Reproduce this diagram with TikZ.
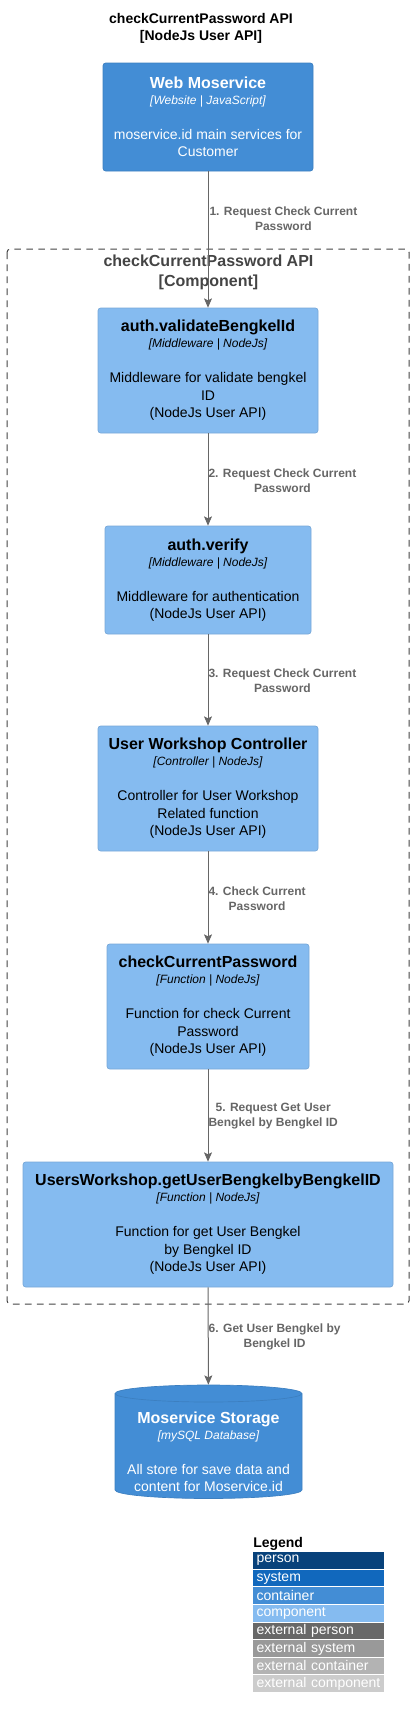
\documentclass[tikz,border=0pt]{standalone}
\usepackage{fontspec}
\setmainfont{Liberation Sans}
\usetikzlibrary{arrows.meta}

\definecolor{personcol}{HTML}{08427B}
\definecolor{systemcol}{HTML}{1168BD}
\definecolor{containercol}{HTML}{438DD5}
\definecolor{containerline}{HTML}{3C7FC0}
\definecolor{componentcol}{HTML}{85BBF0}
\definecolor{componentline}{HTML}{78A8D8}
\definecolor{extpersoncol}{HTML}{686868}
\definecolor{extsystemcol}{HTML}{999999}
\definecolor{extcontainercol}{HTML}{B3B3B3}
\definecolor{extcomponentcol}{HTML}{CCCCCC}
\definecolor{relcol}{HTML}{666666}
\definecolor{boundarycol}{HTML}{444444}

% name, [technology], description
\newcommand{\elemtext}[3]{{\fontsize{12}{13.125}\selectfont\bfseries #1}\\[-1.1pt]{\fontsize{9}{13.125}\selectfont\itshape [#2]}\\[13.1pt]#3}

\begin{document}
\begin{tikzpicture}[x=0.75pt, y=-0.75pt,
		box/.style={rectangle, rounded corners=2pt, line width=0.5pt, align=center, inner sep=0pt, font=\fontsize{10.5}{13.125}\selectfont},
		component/.style={box, fill=componentcol, draw=componentline, text=black, minimum height=93.75pt},
		container/.style={box, fill=containercol, draw=containerline, text=white},
		rel/.style={draw=relcol, line width=0.75pt, -{Stealth[length=7pt,width=6pt,inset=1.5pt]}},
		rellabel/.style={anchor=west, inner sep=0pt, align=center, text=relcol, font=\fontsize{9}{11.25}\selectfont\bfseries},
		legendrow/.style={anchor=north west, minimum height=12.4pt, text width=93.25pt, inner xsep=2.5pt, inner ysep=0pt, align=left, text=white, font=\fontsize{10.5}{12}\selectfont}]
		\useasboundingbox (0,0) rectangle (414,1718);
		
		%title
		\node[align=center, font=\fontsize{10.5}{12.75}\selectfont\bfseries] (title) at (201, 28.5) {checkCurrentPassword API\\{[NodeJs User API]}};
		
		%boundary
		\draw[boundarycol, line width=0.75pt, dash pattern=on 5pt off 4pt, rounded corners=2.5pt] (7, 249) rectangle (409, 1304);
		\node[align=center, text=boundarycol, font=\fontsize{12}{15.3}\selectfont\bfseries] (btitle) at (208.5, 272.5) {checkCurrentPassword API\\{[Component]}};
		
		%database
		\fill[containercol, draw=containerline, line width=0.5pt] (115, 1393.5) -- (115, 1490) arc[start angle=180, end angle=0, x radius=93.5, y radius=8.5] -- (302, 1393.5) arc[start angle=360, end angle=180, x radius=93.5, y radius=8.5] -- cycle;
		\draw[containerline, line width=0.5pt] (115, 1393.5) arc[start angle=180, end angle=0, x radius=93.5, y radius=8.5];
		\node[box, text=white, minimum width=140.25pt, minimum height=100.5pt] (db) at (208.5, 1452) {\elemtext{Moservice Storage}{mySQL Database}{All store for save data and\\content for Moservice.id}};
		
		%elements
		\node[container, minimum width=157.5pt, minimum height=81pt] (web) at (208, 117) {\elemtext{Web Moservice}{Website | JavaScript}{moservice.id main services for\\Customer}};
		\node[component, minimum width=165pt] (validate) at (208, 370.5) {\elemtext{auth.validateBengkelId}{Middleware | NodeJs}{Middleware for validate bengkel\\ID\\(NodeJs User API)}};
		\node[component, minimum width=154.5pt, minimum height=81pt] (verify) at (208, 580) {\elemtext{auth.verify}{Middleware | NodeJs}{Middleware for authentication\\(NodeJs User API)}};
		\node[component, minimum width=165pt] (controller) at (208, 788.5) {\elemtext{User Workshop Controller}{Controller | NodeJs}{Controller for User Workshop\\Related function\\(NodeJs User API)}};
		\node[component, minimum width=151.5pt] (check) at (208, 1006.5) {\elemtext{checkCurrentPassword}{Function | NodeJs}{Function for check Current\\Password\\(NodeJs User API)}};
		\node[component, minimum width=277.5pt] (users) at (208, 1224.5) {\elemtext{UsersWorkshop.getUserBengkelbyBengkelID}{Function | NodeJs}{Function for get User Bengkel\\by Bengkel ID\\(NodeJs User API)}};
		
		%relations
		\draw[rel] (web) -- node[rellabel, pos=0.347, xshift=0.75pt] (l1) {1. Request Check Current\\Password} (validate);
		\draw[rel] (validate) -- node[rellabel, pos=0.51] (l2) {2. Request Check Current\\Password} (verify);
		\draw[rel] (verify) -- node[rellabel, pos=0.505] (l3) {3. Request Check Current\\Password} (controller);
		\draw[rel] (controller) -- node[rellabel, pos=0.516] (l4) {4. Check Current\\Password} (check);
		\draw[rel] (check) -- node[rellabel, pos=0.51] (l5) {5. Request Get User\\Bengkel by Bengkel ID} (users);
		\draw[rel] (users) -- node[rellabel, pos=0.51] (l6) {6. Get User Bengkel by\\Bengkel ID} (db);
		
		%legend
		\node[anchor=west, inner sep=0pt, font=\fontsize{10.5}{12}\selectfont\bfseries] (legend) at (253, 1544) {Legend};
		\foreach \name/\col [count=\i from 0] in {person/personcol, system/systemcol, container/containercol, component/componentcol, external person/extpersoncol, external system/extsystemcol, external container/extcontainercol, external component/extcomponentcol}{
			\node[legendrow, fill=\col] (leg\i) at (253, 1552+17.57*\i) {\name};
		}
\end{tikzpicture}
\end{document}
